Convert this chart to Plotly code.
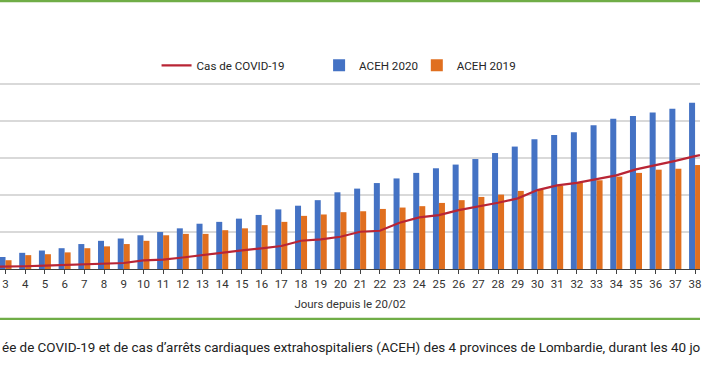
import plotly.graph_objects as go

# Days since 20/02 (days 2 and 39 lie just outside the visible crop)
days = list(range(2, 40))
tick_days = list(range(3, 39))

aceh_2020 = [19, 26, 35, 40, 45, 54, 61, 66, 73, 80, 88, 98, 102, 109, 117, 129, 137, 149, 166,
             174, 186, 196, 208, 218, 226, 238, 251, 265, 281, 290, 296, 311, 325, 331, 339, 347, 360, 370]
aceh_2019 = [13, 19, 30, 32, 36, 45, 49, 54, 61, 73, 76, 76, 84, 88, 95, 102, 115, 118, 123,
             125, 130, 133, 136, 143, 149, 156, 161, 169, 171, 180, 187, 192, 200, 208, 215, 217, 225, 231]
covid_cases = [162, 219, 225, 268, 324, 381, 430, 486, 705, 754, 932, 1135, 1322, 1516, 1678, 1865, 2295, 2408, 2619,
               3024, 3105, 3754, 4192, 4378, 4784, 5051, 5376, 5732, 6405, 6786, 6997, 7297, 7597, 8084, 8408, 8781, 9162, 9486]

x_title = "Jours depuis le 20/02"
# visible part of the figure caption (cropped at both ends in the reference)
caption = ("ée de COVID-19 et de cas d’arrêts cardiaques extrahospitaliers (ACEH) "
           "des 4 provinces de Lombardie, durant les 40 jo")

FONT = "Roboto"
W, H = 702, 370
ML, MR, MT, MB = 0, 0, 47, 101
PH = H - MT - MB

def py(ypix):
    return (H - MB - ypix) / PH

def px(xpix):
    return xpix / W

fig = go.Figure()
fig.add_trace(go.Bar(x=days, y=aceh_2020, name="ACEH 2020", marker_color="#4472C4",
                     marker_line_width=0, legend="legend2"))
fig.add_trace(go.Bar(x=days, y=aceh_2019, name="ACEH 2019", marker_color="#E06F1F",
                     marker_line_width=0, legend="legend3"))
fig.add_trace(go.Scatter(x=days, y=covid_cases, name="Cas de COVID-19", mode="lines",
                         line=dict(color="#B92535", width=2.2), yaxis="y2", legend="legend"))

legend_common = dict(orientation="h", yanchor="middle", xanchor="left", bgcolor="rgba(0,0,0,0)",
                     font=dict(family=FONT, size=11.6, color="#262626"), borderwidth=0)

fig.update_layout(
    width=W, height=H,
    margin=dict(l=ML, r=MR, t=MT, b=MB, pad=0),
    paper_bgcolor="white", plot_bgcolor="white",
    showlegend=True,
    barmode="group", bargap=0.39, bargroupgap=0,
    font=dict(family=FONT, color="#333333"),
    xaxis=dict(range=[2.72, 38.25], tickmode="array", tickvals=tick_days,
               ticktext=[str(d) for d in tick_days], ticklabeloverflow="allow",
               showgrid=False, zeroline=False,
               showline=True, linecolor="#404040", linewidth=1,
               ticks="outside", ticklen=4, tickcolor="#404040", tickwidth=1,
               tickfont=dict(family=FONT, size=11.5, color="#333333"),
               title=dict(text=x_title, font=dict(family=FONT, size=11.5, color="#333333"), standoff=10)),
    yaxis=dict(range=[0, 480.5], tickvals=[80, 160, 240, 320, 400, 480], showgrid=True,
               gridcolor="#D9D9D9", gridwidth=1.5,
               showticklabels=False, zeroline=False, showline=False, ticks=""),
    yaxis2=dict(range=[0, 18018.75], overlaying="y", side="right", showgrid=False,
                showticklabels=False, zeroline=False, showline=False, ticks=""),
    legend=dict(x=px(157), y=py(65.3), visible=True, **legend_common),
    legend2=dict(x=px(320), y=py(65.3), visible=True, **legend_common),
    legend3=dict(x=px(418), y=py(65.3), visible=True, **legend_common),
    shapes=[
        dict(type="line", xref="paper", yref="paper", x0=0, x1=1, y0=py(1.2), y1=py(1.2),
             line=dict(color="#70AD47", width=2.2)),
        dict(type="line", xref="paper", yref="paper", x0=0, x1=1, y0=py(318.8), y1=py(318.8),
             line=dict(color="#70AD47", width=2.2)),
    ],
    annotations=[
        dict(text=caption, xref="paper", yref="paper", x=0, y=py(347), xanchor="left", yanchor="middle",
             showarrow=False, font=dict(family=FONT, size=13.45, color="#222222")),
    ],
)

fig.write_html("out.html", config={"displayModeBar": False},
               post_script="document.body.style.margin='0px';document.body.style.overflow='hidden';")
